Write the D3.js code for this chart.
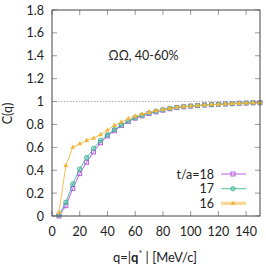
<!DOCTYPE html>
<html>
<head>
<meta charset="utf-8">
<script src="https://cdn.jsdelivr.net/npm/d3@7"></script>
<style>
  html, body { margin: 0; padding: 0; background: #fff; }
  svg { display: block; }
  text { font-family: Lato, 'Liberation Sans', sans-serif; fill: #222; }
</style>
</head>
<body>
<div id="chart"></div>
<script>
// momentum q* in MeV/c
const qValues = [5, 10, 15, 20, 25, 30, 35, 40, 45, 50, 55, 60, 65, 70, 75,
  80, 85, 90, 95, 100, 105, 110, 115, 120, 125, 130, 135, 140, 145, 150];

// C(q) for t/a = 18, 17, 16
const corrT18 = [0.00, 0.09, 0.24, 0.37, 0.47, 0.56, 0.64, 0.70, 0.745, 0.79, 0.825, 0.855, 0.875, 0.895, 0.91,
  0.925, 0.937, 0.947, 0.954, 0.96, 0.965, 0.97, 0.973, 0.976, 0.979, 0.982, 0.985, 0.987, 0.989, 0.99];
const corrT17 = [0.01, 0.12, 0.28, 0.41, 0.51, 0.59, 0.66, 0.71, 0.755, 0.795, 0.83, 0.86, 0.88, 0.90, 0.915,
  0.928, 0.94, 0.949, 0.955, 0.96, 0.965, 0.97, 0.973, 0.976, 0.979, 0.982, 0.985, 0.987, 0.989, 0.99];
const corrT16 = [0.03, 0.44, 0.60, 0.63, 0.66, 0.68, 0.71, 0.75, 0.79, 0.82, 0.85, 0.872, 0.89, 0.905, 0.92,
  0.93, 0.94, 0.95, 0.955, 0.96, 0.965, 0.97, 0.973, 0.976, 0.979, 0.982, 0.985, 0.987, 0.989, 0.99];

const seriesLabels = ['t/a=18', '17', '16'];
const xTicks = [0, 20, 40, 60, 80, 100, 120, 140];
const yTicks = [0, 0.2, 0.4, 0.6, 0.8, 1, 1.2, 1.4, 1.6, 1.8];
const titleText = 'ΩΩ, 40-60%';

const width = 266, height = 267;
const margin = { top: 10, right: 6, bottom: 51, left: 52 };
const w = width - margin.left - margin.right;
const h = height - margin.top - margin.bottom;

const svg = d3.select('#chart').append('svg')
  .attr('width', width)
  .attr('height', height);

const g = svg.append('g')
  .attr('transform', `translate(${margin.left},${margin.top})`);

const x = d3.scaleLinear().domain([0, 150]).range([0, w]);
const y = d3.scaleLinear().domain([0, 1.8]).range([h, 0]);

// reference line at C=1
g.append('line')
  .attr('x1', 0).attr('x2', w)
  .attr('y1', y(1)).attr('y2', y(1))
  .attr('stroke', '#999')
  .attr('stroke-width', 0.8)
  .attr('stroke-dasharray', '1.5,1.5');

// inner ticks on all four sides
const tickLen = 5;
const tickColor = '#999';
xTicks.forEach(t => {
  g.append('line').attr('x1', x(t)).attr('x2', x(t)).attr('y1', h).attr('y2', h - tickLen)
    .attr('stroke', tickColor);
  g.append('line').attr('x1', x(t)).attr('x2', x(t)).attr('y1', 0).attr('y2', tickLen)
    .attr('stroke', tickColor);
});
yTicks.forEach(t => {
  g.append('line').attr('x1', 0).attr('x2', tickLen).attr('y1', y(t)).attr('y2', y(t))
    .attr('stroke', tickColor);
  g.append('line').attr('x1', w).attr('x2', w - tickLen).attr('y1', y(t)).attr('y2', y(t))
    .attr('stroke', tickColor);
});

// tick labels
g.selectAll('.xlab').data(xTicks).join('text')
  .attr('x', d => x(d))
  .attr('y', h + 20)
  .attr('text-anchor', 'middle')
  .style('font-size', '12.5px')
  .text(d => d);

g.selectAll('.ylab').data(yTicks).join('text')
  .attr('x', -8)
  .attr('y', d => y(d) + 4.5)
  .attr('text-anchor', 'end')
  .style('font-size', '12.5px')
  .text(d => d);

// axis titles
svg.append('text')
  .attr('transform', `translate(12,${margin.top + y(1.0) + 12}) rotate(-90)`)
  .attr('text-anchor', 'middle')
  .style('font-size', '12.5px')
  .text('C(q)');

const xTitle = svg.append('text')
  .attr('x', 155)
  .attr('y', 262)
  .attr('text-anchor', 'middle')
  .style('font-size', '13px');
xTitle.append('tspan').text('q=|');
xTitle.append('tspan').style('font-weight', 'bold').text('q');
xTitle.append('tspan').attr('dy', -5).style('font-size', '9px').text('*');
xTitle.append('tspan').attr('dy', 5).text(' | [MeV/c]');

// annotation
g.append('text')
  .attr('x', x(66))
  .attr('y', y(1.4) + 4.5)
  .attr('text-anchor', 'middle')
  .style('font-size', '12.5px')
  .text(titleText);

// series
const series = [
  { label: seriesLabels[0], values: corrT18, color: '#b44ee0', marker: 'square' },
  { label: seriesLabels[1], values: corrT17, color: '#3cb896', marker: 'circle' },
  { label: seriesLabels[2], values: corrT16, color: '#f2b63c', marker: 'triangle' }
];

const line = d3.line()
  .x(d => x(d[0]))
  .y(d => y(d[1]));

function drawMarker(sel, type, color, cx, cy) {
  if (type === 'square') {
    sel.append('rect')
      .attr('x', cx - 2).attr('y', cy - 2)
      .attr('width', 4).attr('height', 4)
      .attr('fill', 'none')
      .attr('stroke', color)
      .attr('stroke-width', 0.9);
  } else if (type === 'circle') {
    sel.append('circle')
      .attr('cx', cx).attr('cy', cy).attr('r', 2.2)
      .attr('fill', color)
      .attr('fill-opacity', 0.4)
      .attr('stroke', color)
      .attr('stroke-width', 0.9);
  } else {
    sel.append('path')
      .attr('d', d3.symbol().type(d3.symbolTriangle).size(11)())
      .attr('transform', `translate(${cx},${cy})`)
      .attr('fill', color);
  }
}

series.forEach(s => {
  const pts = qValues.map((q, i) => [q, s.values[i]]);
  g.append('path')
    .datum(pts)
    .attr('fill', 'none')
    .attr('stroke', s.color)
    .attr('stroke-width', 0.9)
    .attr('d', line);
  const mg = g.append('g');
  pts.forEach(p => drawMarker(mg, s.marker, s.color, x(p[0]), y(p[1])));
});

// frame
g.append('rect')
  .attr('x', 0).attr('y', 0)
  .attr('width', w).attr('height', h)
  .attr('fill', 'none')
  .attr('stroke', '#444')
  .attr('stroke-width', 1);

// legend
const legend = g.append('g');
series.forEach((s, i) => {
  const ly = 164 + i * 14.7;
  legend.append('text')
    .attr('x', 162)
    .attr('y', ly + 4.5)
    .attr('text-anchor', 'end')
    .style('font-size', '12.5px')
    .text(s.label);
  if (i === 2) {
    legend.append('line')
      .attr('x1', 169).attr('x2', 194)
      .attr('y1', ly).attr('y2', ly)
      .attr('stroke', '#fae6b8')
      .attr('stroke-width', 4);
  }
  legend.append('line')
    .attr('x1', 169).attr('x2', 194)
    .attr('y1', ly).attr('y2', ly)
    .attr('stroke', s.color)
    .attr('stroke-width', i === 2 ? 0.6 : 0.9);
  drawMarker(legend, s.marker, s.color, 181, ly);
});
</script>
</body>
</html>
